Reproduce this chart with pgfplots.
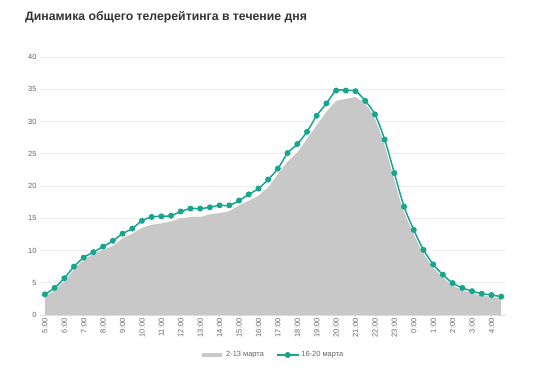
\documentclass[border=0pt]{standalone}
\usepackage{pgfplots}
\pgfplotsset{compat=1.18}
\usepackage{pgfplotstable}
\usepackage{fontspec}
\setmainfont{Liberation Sans}
\definecolor{teal1}{HTML}{17A58E}
\definecolor{area1}{HTML}{C8C8C8}
\definecolor{tickc}{HTML}{666666}
\definecolor{titlec}{HTML}{333333}
\pgfplotstableread{
x y
0 3.2
1 4.0
2 5.5
3 7.3
4 8.6
5 9.5
6 10.1
7 10.7
8 11.9
9 12.6
10 13.5
11 14.0
12 14.2
13 14.5
14 15.0
15 15.2
16 15.2
17 15.6
18 15.8
19 16.1
20 17.0
21 17.7
22 18.5
23 19.8
24 21.8
25 23.8
26 25.2
27 27.3
28 29.4
29 31.5
30 33.2
31 33.5
32 33.8
33 32.8
34 30.9
35 27.0
36 21.8
37 16.6
38 13.0
39 9.9
40 7.7
41 6.1
42 4.8
43 4.1
44 3.6
45 3.2
46 3.0
47 2.8
}\greydata
\pgfplotstableread{
x y
0 3.2
1 4.2
2 5.7
3 7.5
4 8.9
5 9.75
6 10.6
7 11.5
8 12.6
9 13.4
10 14.6
11 15.2
12 15.3
13 15.4
14 16.05
15 16.5
16 16.5
17 16.7
18 17.0
19 17.0
20 17.75
21 18.7
22 19.6
23 21.0
24 22.7
25 25.1
26 26.5
27 28.4
28 30.9
29 32.8
30 34.8
31 34.8
32 34.7
33 33.2
34 31.1
35 27.2
36 22.0
37 16.8
38 13.2
39 10.1
40 7.85
41 6.25
42 4.95
43 4.2
44 3.7
45 3.3
46 3.1
47 2.85
}\tealdata
\begin{document}
\begin{tikzpicture}[x=1bp,y=1bp]
\path[use as bounding box] (0,0) rectangle (550,374);
\node[anchor=west,font=\fontsize{12.3}{14}\selectfont\bfseries,text=titlec,inner sep=0pt] at (25,357) {Динамика общего телерейтинга в течение дня};
\begin{axis}[
  at={(40bp,59bp)}, anchor=south west,
  scale only axis, width=466bp, height=258bp,
  xmin=-0.5, xmax=47.5, ymin=0, ymax=40,
  ytick={0,5,...,40},
  xtick={0,2,...,46},
  xticklabels={5:00,6:00,7:00,8:00,9:00,10:00,11:00,12:00,13:00,14:00,15:00,16:00,17:00,18:00,19:00,20:00,21:00,22:00,23:00,0:00,1:00,2:00,3:00,4:00},
  xticklabel style={rotate=90,anchor=east,font=\fontsize{7.5}{8}\selectfont,text=tickc},
  yticklabel style={font=\fontsize{7.5}{8}\selectfont,text=tickc},
  /pgf/number format/assume math mode=true,
  ymajorgrids, grid style={draw=black!7, line width=0.6pt},
  axis x line*=bottom, axis y line*=left,
  x axis line style={draw=black!13, line width=0.8pt, -},
  y axis line style={draw=none},
  major tick length=0pt,
  xtick pos=bottom, ytick pos=left,
  legend style={at={(0.5,-0.155)}, anchor=center, draw=none, legend columns=2,
    font=\fontsize{7.5}{8}\selectfont, text=tickc,
    /tikz/every even column/.append style={column sep=10bp}},
  legend cell align=left,
]
\addplot[fill=area1, draw=none, area legend,
  legend image code/.code={\draw[line width=3.5bp, area1] (0bp,0bp) -- (20bp,0bp);}]
  table[x=x,y=y] {\greydata} \closedcycle;
\addlegendentry{2-13 марта}
\addplot[white, line width=3.5bp, smooth, forget plot] table[x=x,y=y] {\tealdata};
\addplot[teal1, line width=1.5bp, smooth, mark=*, mark size=2.2bp,
  mark options={fill=teal1, draw=teal1},
  legend image code/.code={\draw[teal1, line width=1.5bp] (0bp,0bp) -- (22bp,0bp); \fill[teal1] (11bp,0bp) circle (2.2bp);}]
  table[x=x,y=y] {\tealdata};
\addlegendentry{16-20 марта}
\end{axis}
\end{tikzpicture}
\end{document}
